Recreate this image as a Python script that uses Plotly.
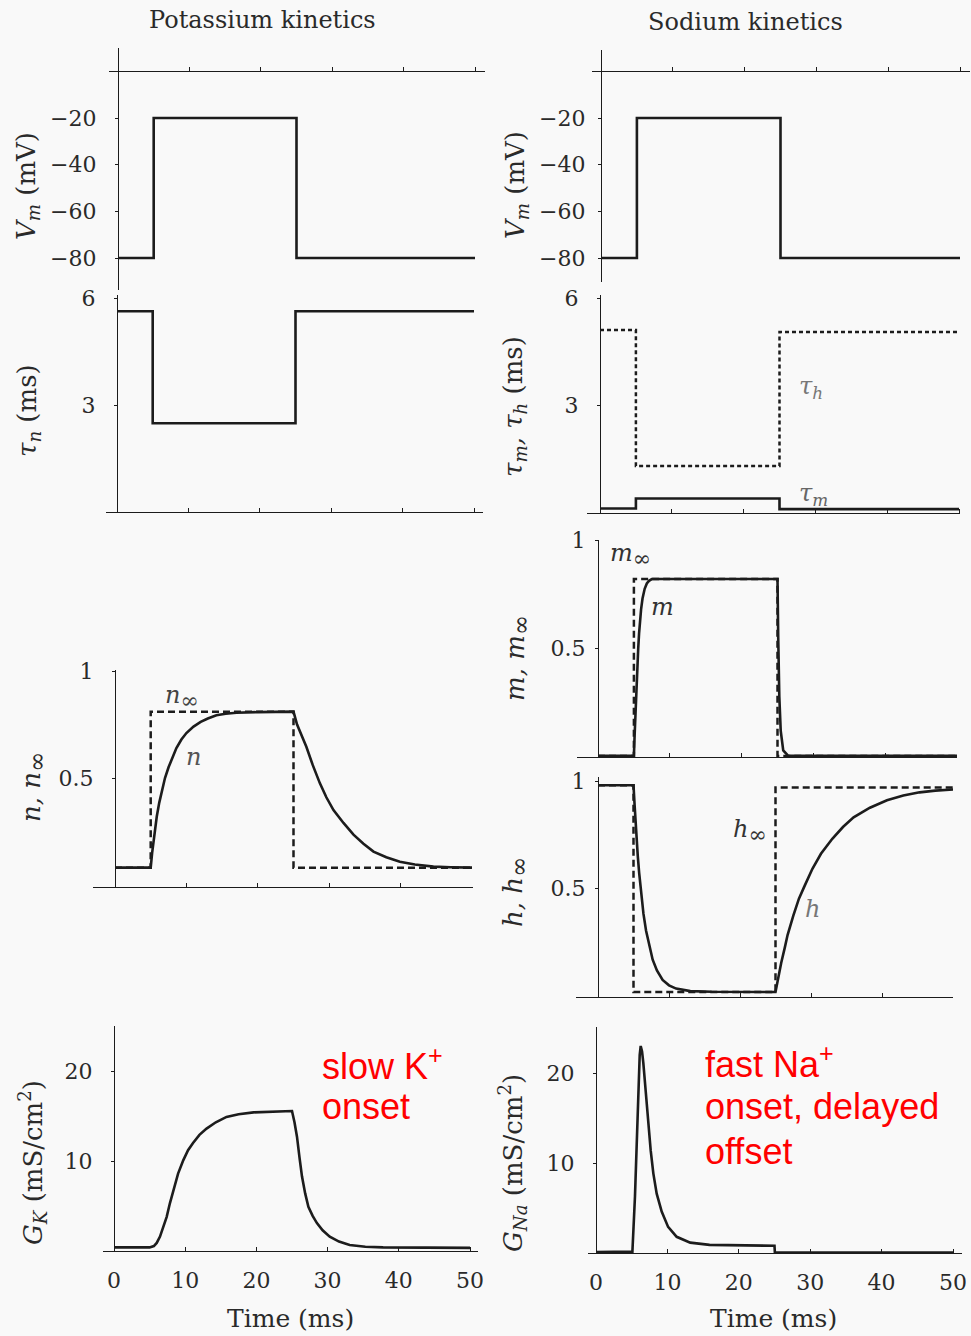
import plotly.graph_objects as go

# ---------------- data (time in ms) ----------------
# voltage clamp step and the step-like steady-state / time-constant traces
t_step = [0, 5, 5, 25, 25, 50]
vm_step = [-80, -80, -20, -20, -80, -80]
tau_n = [5.63, 5.63, 2.49, 2.49, 5.63, 5.63]
n_inf = [0.081, 0.081, 0.81, 0.81, 0.081, 0.081]
tau_h = [5.1, 5.1, 1.29, 1.29, 5.05, 5.05]
tau_m = [0.1, 0.1, 0.38, 0.38, 0.08, 0.08]
m_inf = [0.005, 0.005, 0.82, 0.82, 0.005, 0.005]
h_inf = [0.98, 0.98, 0.014, 0.014, 0.97, 0.97]

# potassium activation n(t)
t_n = [0, 5.0, 5.2, 5.4, 5.6, 5.85, 6.2, 6.55, 7.0, 7.5, 8.0, 8.6, 9.3, 10.0, 11.0,
       12.0, 13.0, 14.2, 15.5, 17.0, 20.0, 25.0,
       25.5, 26.0, 26.8, 27.7, 28.7, 29.6, 30.6, 32.0, 33.4, 34.8, 36.2, 38.0, 39.9,
       42.0, 44.6, 47.0, 50.0]
n_val = [0.081, 0.081, 0.15, 0.21, 0.265, 0.32, 0.385, 0.44, 0.5, 0.55, 0.595, 0.64,
         0.68, 0.71, 0.74, 0.762, 0.778, 0.793, 0.8, 0.805, 0.808, 0.81,
         0.75, 0.71, 0.646, 0.56, 0.475, 0.41, 0.35, 0.29, 0.235, 0.193, 0.156, 0.13,
         0.109, 0.096, 0.086, 0.083, 0.081]

# sodium activation m(t)
t_m = [0, 5.0, 5.1, 5.2, 5.3, 5.4, 5.5, 5.6, 5.72, 5.85, 6.0, 6.2, 6.5, 6.8, 7.1, 7.5,
       25.0, 25.1, 25.25, 25.45, 25.8, 26.5, 50.0]
m_val = [0.005, 0.005, 0.1, 0.2, 0.29, 0.38, 0.445, 0.5, 0.57, 0.63, 0.68, 0.73, 0.775,
         0.8, 0.812, 0.82, 0.82, 0.55, 0.28, 0.12, 0.03, 0.005, 0.005]

# sodium inactivation h(t)
t_h = [0, 5.0, 5.15, 5.3, 5.45, 5.6, 5.8, 6.08, 6.4, 6.77, 7.2, 7.7, 8.3, 9.1, 10.0,
       11.0, 13.0, 16.0, 25.0,
       25.3, 25.8, 26.3, 26.7, 27.5, 28.3, 29.1, 30.2, 31.4, 33.0, 34.5, 36.0, 38.3,
       40.7, 43.0, 45.3, 47.5, 50.0]
h_val = [0.98, 0.98, 0.89, 0.80, 0.72, 0.65, 0.57, 0.47, 0.38, 0.30, 0.23, 0.165, 0.115,
         0.07, 0.045, 0.03, 0.018, 0.015, 0.014,
         0.07, 0.15, 0.22, 0.28, 0.37, 0.45, 0.51, 0.59, 0.66, 0.73, 0.785, 0.83, 0.875,
         0.91, 0.932, 0.947, 0.955, 0.96]

# conductances (mS/cm^2)
t_gk = [0, 5.0, 5.6, 6.0, 6.46, 6.9, 7.4, 7.85, 8.33, 9.0, 9.74, 10.4, 11.1, 12.0, 13.0,
        14.3, 15.8, 17.5, 19.6, 22.0, 25.0,
        25.35, 25.7, 26.05, 26.4, 26.85, 27.3, 27.9, 28.5, 29.3, 30.3, 31.6, 33.1, 35.3,
        37.8, 50.0]
g_k = [0.4, 0.4, 0.55, 0.9, 1.6, 2.6, 3.8, 5.3, 6.8, 8.6, 10.1, 11.2, 12.0, 12.9, 13.6,
       14.3, 14.9, 15.2, 15.4, 15.5, 15.55,
       14.3, 12.7, 10.4, 8.3, 6.4, 4.9, 3.9, 3.1, 2.3, 1.6, 1.05, 0.67, 0.48,
       0.4, 0.35]

t_gna = [0, 5.0, 5.1, 5.46, 5.7, 5.98, 6.12, 6.26, 6.45, 6.63, 6.86, 7.1, 7.33, 7.66,
         8.03, 8.5, 9.2, 10.1, 11.3, 13.2, 15.9, 20.0, 25.0, 25.05, 50.0]
g_na = [0.1, 0.1, 0.15, 6.3, 12.6, 19.2, 22.0, 23.0, 22.4, 21.1, 18.9, 16.6, 14.0, 11.4,
        8.85, 6.6, 4.6, 2.9, 1.8, 1.15, 0.9, 0.85, 0.8, 0.05, 0.05]

time_ticks = [0, 10, 20, 30, 40, 50]

# ---------------- page geometry ----------------
W, H = 971, 1336
INK = "#1c1c1c"
TXT = "#2a2a2a"
SERIF = "DejaVu Serif"


def px(x):
    return x / W


def py(y):
    return 1 - y / H


# panel: x domain (px), x of t=0 (px), px per ms, y domain top/bottom (px),
# two (value, px) anchors for the y scale, y tick values, y tick label standoff
panels = {
    "vmK": dict(xd=(109, 485), x0=118, k=7.14, yd=(48, 290), ya=((-20, 118), (-80, 258)),
                yt=[-20, -40, -60, -80], xpos=0, so=14),
    "tauK": dict(xd=(106, 483), x0=117, k=7.14, yd=(295, 512), ya=((0, 512), (3, 405)),
                 yt=[3, 6], xpos=None, so=14),
    "nK": dict(xd=(93, 473), x0=115, k=7.14, yd=(670, 887), ya=((0.5, 778), (1, 671)),
               yt=[0.5, 1], xpos=None, so=14),
    "gK": dict(xd=(103, 478), x0=114, k=7.12, yd=(1026, 1251), ya=((0, 1251), (20, 1071)),
               yt=[10, 20], xpos=None, so=14),
    "vmNa": dict(xd=(592, 970), x0=601, k=7.18, yd=(50, 282), ya=((-20, 118), (-80, 258)),
                 yt=[-20, -40, -60, -80], xpos=0, so=8),
    "tauNa": dict(xd=(587, 960), x0=600, k=7.18, yd=(295, 513), ya=((0, 512), (3, 405)),
                  yt=[3, 6], xpos=None, so=14),
    "mNa": dict(xd=(577, 957), x0=598, k=7.18, yd=(540, 757), ya=((0, 757), (1, 540)),
                yt=[0.5, 1], xpos=None, so=5),
    "hNa": dict(xd=(576, 953), x0=598, k=7.1, yd=(777, 997), ya=((0.5, 888), (1, 781)),
                yt=[0.5, 1], xpos=None, so=5),
    "gNa": dict(xd=(588, 962), x0=596, k=7.14, yd=(1027, 1253), ya=((0, 1253), (20, 1073)),
                yt=[10, 20], xpos=None, so=14),
}
bottom_panels = {"gK", "gNa"}

fig = go.Figure()
layout_axes = {}
axis_ids = {}
for i, (name, p) in enumerate(panels.items(), start=1):
    axis_ids[name] = ("x" if i == 1 else f"x{i}", "y" if i == 1 else f"y{i}")
    xl, xr = p["xd"]
    xr_lo = (xl - p["x0"]) / p["k"]
    xr_hi = (xr - p["x0"]) / p["k"]
    (v1, p1), (v2, p2) = p["ya"]
    slope = (p2 - p1) / (v2 - v1)  # px per unit (negative: up)
    yt_px, yb_px = p["yd"]
    y_hi = v1 + (yt_px - p1) / slope
    y_lo = v1 + (yb_px - p1) / slope
    # x axis line sits at value xpos (0 mV for voltage panels) or the bottom of the panel
    if p["xpos"] is None:
        xline_px = yb_px
    else:
        xline_px = p1 + (p["xpos"] - v1) * slope
    xa = dict(
        domain=[px(xl), px(xr)], range=[xr_lo, xr_hi], anchor="free", position=py(xline_px),
        showline=True, linecolor=INK, linewidth=1.3, showgrid=False, zeroline=False,
        ticks="inside", ticklen=4, tickwidth=1, tickcolor=INK, tickvals=time_ticks,
        showticklabels=name in bottom_panels, ticklabelstandoff=9, automargin=False,
        tickfont=dict(family=SERIF, size=22, color=TXT), fixedrange=True,
    )
    ya = dict(
        domain=[py(yb_px), py(yt_px)], range=[y_lo, y_hi], anchor="free", position=px(p["x0"]),
        showline=True, linecolor=INK, linewidth=1.3, showgrid=False, zeroline=False,
        ticks="outside", ticklen=3, tickwidth=1, tickcolor=INK, tickvals=p["yt"],
        ticklabelstandoff=p["so"], tickfont=dict(family=SERIF, size=22, color=TXT),
        automargin=False, fixedrange=True,
    )
    key = "" if i == 1 else str(i)
    layout_axes["xaxis" + key] = xa
    layout_axes["yaxis" + key] = ya


def add(panel, x, y, dash="solid", width=2.6, color=INK):
    xa, ya = axis_ids[panel]
    fig.add_trace(go.Scatter(
        x=x, y=y, xaxis=xa, yaxis=ya, mode="lines", showlegend=False, hoverinfo="skip",
        line=dict(color=color, width=width, dash=dash, shape="linear"),
    ))


# potassium column
add("vmK", t_step, vm_step)
add("tauK", t_step, tau_n)
add("nK", t_step, n_inf, dash="7px,4px", width=2.5)
add("nK", t_n, n_val)
add("gK", t_gk, g_k)

# sodium column
add("vmNa", t_step, vm_step)
add("tauNa", t_step, tau_h, dash="4px,3px", width=2.5)
add("tauNa", t_step, tau_m)
add("mNa", t_step, m_inf, dash="7px,4px", width=2.5)
add("mNa", t_m, m_val)
add("hNa", t_step, h_inf, dash="7px,4px", width=2.5)
add("hNa", t_h, h_val)
add("gNa", t_gna, g_na)

annotations = []


def note(text, x, y, size=22, color=TXT, angle=0, family=SERIF, xanchor="center"):
    annotations.append(dict(
        text=text, x=px(x), y=py(y), xref="paper", yref="paper", showarrow=False,
        textangle=angle, xanchor=xanchor, yanchor="middle",
        font=dict(family=family, size=size, color=color),
    ))


def inf_sub(size):
    # a larger infinity subscript than the default sub size
    return f"<sub><span style='font-size:{size}px'>∞</span></sub>"


# column titles
note("Potassium kinetics", 262, 20, size=24)
note("Sodium kinetics", 745, 22, size=24)

# axis titles
note("<i>V<sub>m</sub></i> (mV)", 28, 186, size=26, angle=-90)
note("<i>V<sub>m</sub></i> (mV)", 517, 185, size=26, angle=-90)
note("<i>τ<sub>n</sub></i> (ms)", 28, 411, size=26, angle=-90)
note("<i>τ<sub>m</sub>, τ<sub>h</sub></i> (ms)", 515, 407, size=26, angle=-90)
note("<i>n, n</i>" + inf_sub(24), 33, 787, size=26, angle=-90)
note("<i>m, m</i>" + inf_sub(24), 517, 658, size=26, angle=-90)
note("<i>h, h</i>" + inf_sub(24), 515, 892, size=26, angle=-90)
note("<i>G<sub>K</sub></i> (mS/cm<sup>2</sup>)", 32, 1163, size=26, angle=-90)
note("<i>G<sub>Na</sub></i> (mS/cm<sup>2</sup>)", 512, 1163, size=26, angle=-90)
note("Time (ms)", 290, 1318, size=25)
note("Time (ms)", 773, 1318, size=25)

# curve labels
note("<i>n</i>" + inf_sub(22), 182, 697, size=24, color="#444")
note("<i>n</i>", 193, 757, size=24, color="#555")
note("<i>m</i>" + inf_sub(22), 630, 555, size=24, color="#333")
note("<i>m</i>", 662, 607, size=24, color="#333")
note("<i>h</i>" + inf_sub(22), 750, 831, size=24, color="#333")
note("<i>h</i>", 812, 909, size=24, color="#777")
note("<i>τ<sub>h</sub></i>", 811, 387, size=24, color="#777")
note("<i>τ<sub>m</sub></i>", 813, 494, size=24, color="#666")

# red call-outs
RED = "#ff0000"
SANS = "Liberation Sans"
note("slow K<sup>+</sup>", 320, 1064, size=36, color=RED, family=SANS, xanchor="left")
note("onset", 320, 1106, size=36, color=RED, family=SANS, xanchor="left")
note("fast Na<sup>+</sup>", 703, 1062, size=36, color=RED, family=SANS, xanchor="left")
note("onset, delayed", 703, 1106, size=36, color=RED, family=SANS, xanchor="left")
note("offset", 703, 1151, size=36, color=RED, family=SANS, xanchor="left")

fig.update_layout(
    width=W, height=H, margin=dict(l=0, r=0, t=0, b=0, autoexpand=False),
    paper_bgcolor="#f9f9f9", plot_bgcolor="rgba(0,0,0,0)",
    annotations=annotations, showlegend=False, **layout_axes,
)

fig.write_html("out.html", config={"displayModeBar": False})
